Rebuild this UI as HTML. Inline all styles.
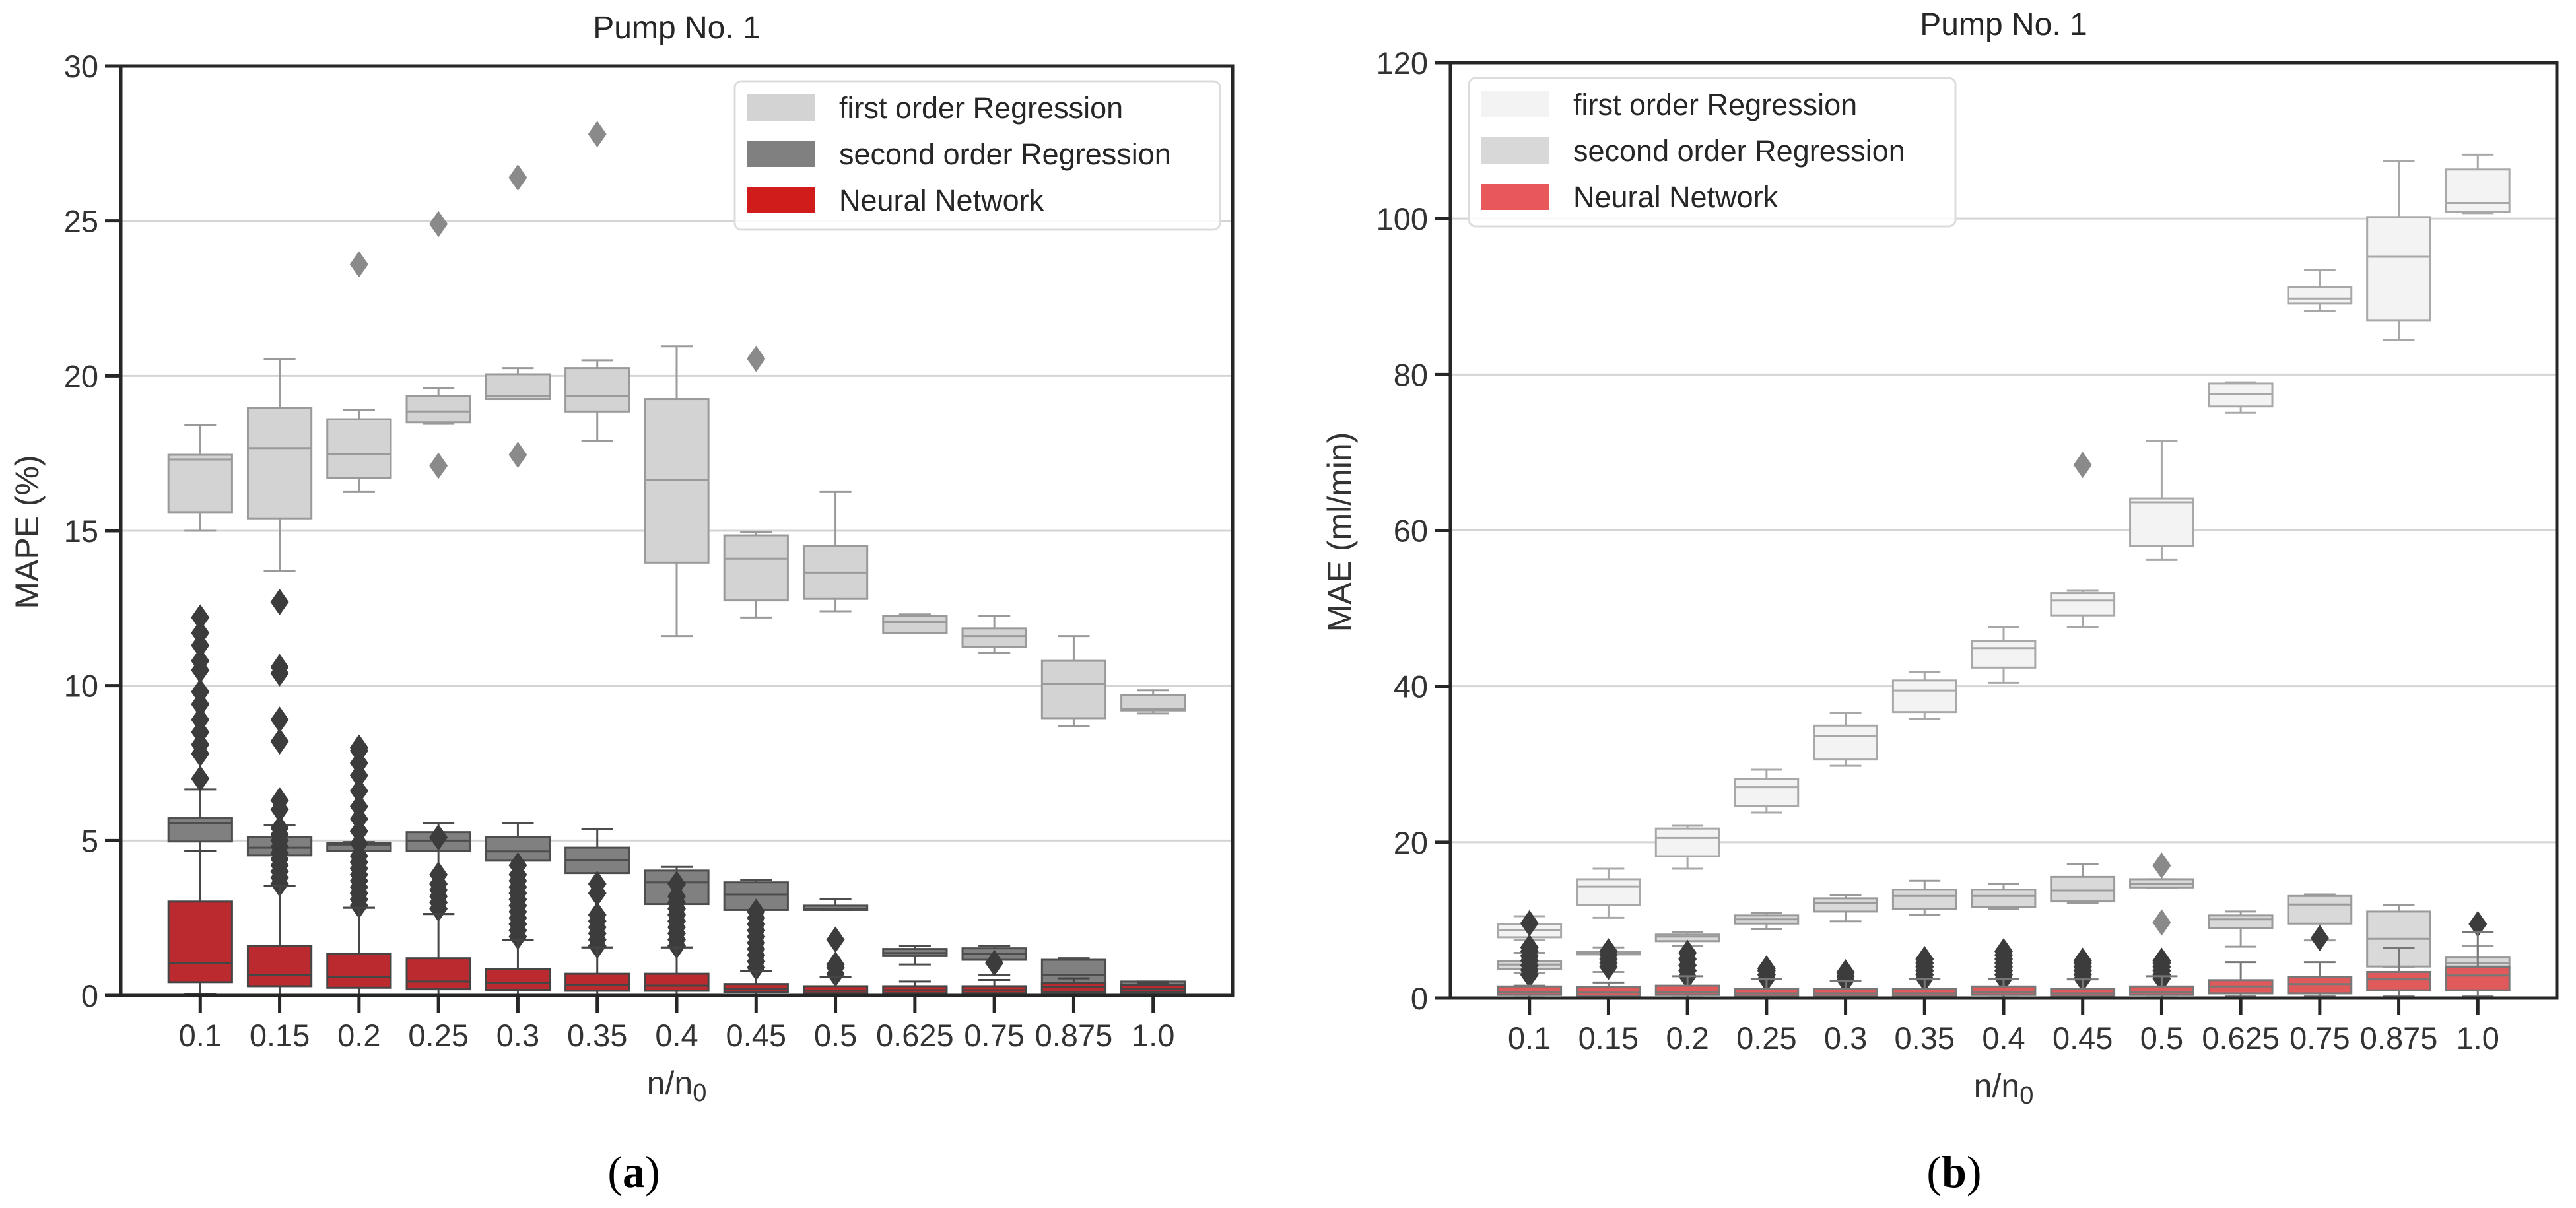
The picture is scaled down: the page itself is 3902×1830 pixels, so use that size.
<!DOCTYPE html>
<html><head><meta charset="utf-8"><style>
html,body{margin:0;padding:0;background:#fff;}
svg{display:block;font-family:"Liberation Sans",Arial,sans-serif;}
</style></head><body>
<svg id="fig" width="3902" height="1830" viewBox="0 0 3902 1830" xmlns="http://www.w3.org/2000/svg"></svg>
<script>
// ---- shared categories ----
const categories = ["0.1","0.15","0.2","0.25","0.3","0.35","0.4","0.45","0.5","0.625","0.75","0.875","1.0"];
// ---- Chart (a): MAPE, box stats [whisLo, q1, median, q3, whisHi] ----
const mapeFirst = [[15.0,15.6,17.3,17.45,18.4],[13.7,15.4,17.67,18.97,20.55],[16.25,16.7,17.47,18.6,18.9],[18.45,18.5,18.85,19.35,19.6],[19.25,19.25,19.35,20.05,20.25],[17.9,18.85,19.35,20.25,20.5],[11.6,13.97,16.65,19.25,20.95],[12.2,12.75,14.1,14.85,14.95],[12.4,12.8,13.65,14.5,16.25],[11.7,11.7,12.05,12.25,12.3],[11.05,11.25,11.6,11.85,12.25],[8.7,8.95,10.05,10.8,11.6],[9.1,9.2,9.25,9.7,9.85]];
const mapeSecond = [[4.67,4.97,5.57,5.72,6.65],[3.53,4.52,4.77,5.12,5.5],[2.83,4.67,4.87,4.92,4.95],[2.63,4.67,5.0,5.27,5.55],[1.8,4.35,4.65,5.12,5.55],[1.55,3.95,4.37,4.77,5.37],[1.55,2.95,3.65,4.03,4.15],[0.8,2.76,3.26,3.65,3.73],[2.76,2.76,2.8,2.9,3.1],[1.0,1.27,1.37,1.5,1.6],[0.67,1.15,1.35,1.52,1.6],[0.02,0.07,0.67,1.15,1.2],[0.05,0.05,0.2,0.45,0.45]];
const mapeNN = [[0.05,0.43,1.05,3.03,4.67],[0.02,0.3,0.65,1.6,3.53],[0.02,0.25,0.6,1.35,2.83],[0.02,0.2,0.45,1.2,2.63],[0.02,0.18,0.4,0.85,1.8],[0.02,0.15,0.35,0.7,1.55],[0.02,0.15,0.32,0.7,1.55],[0.02,0.1,0.2,0.37,0.8],[0.02,0.07,0.15,0.3,0.6],[0.02,0.07,0.17,0.3,0.45],[0.02,0.07,0.17,0.3,0.5],[0.02,0.12,0.27,0.4,0.55],[0.02,0.1,0.2,0.35,0.4]];
const mapeFirstOut = [[],[],[23.6],[24.9,17.1],[26.4,17.45],[27.8],[],[20.55],[],[],[],[],[]];
const mapeDarkOut = [[7.0,7.8,8.1,8.5,8.9,9.4,9.8,10.5,10.8,11.3,11.7,12.2],[3.6,3.8,4.0,4.2,4.4,4.6,4.8,5.0,5.2,5.4,6.0,6.3,8.2,8.9,10.4,10.6,12.7],[2.9,3.1,3.3,3.5,3.7,3.9,4.1,4.3,4.5,4.9,5.3,5.7,6.1,6.6,7.1,7.5,7.9,8.0],[2.8,3.0,3.2,3.4,3.6,3.9,5.1],[1.9,2.1,2.3,2.5,2.7,2.9,3.1,3.3,3.5,3.7,3.9,4.2],[1.6,1.8,2.0,2.2,2.4,2.6,3.3,3.6],[1.6,1.8,2.0,2.2,2.4,2.6,2.8,3.0,3.2,3.6],[0.9,1.1,1.3,1.5,1.7,1.9,2.1,2.3,2.5,2.7],[0.7,0.9,1.0,1.8],[],[1.05],[],[]];
const mapeTicks = [0,5,10,15,20,25,30];
// ---- Chart (b): MAE ----
const maeFirst = [[7.5,7.8,8.75,9.45,10.5],[10.3,11.9,14.3,15.25,16.6],[16.6,18.2,20.55,21.75,22.1],[23.8,24.6,27.05,28.15,29.3],[29.8,30.6,33.65,34.95,36.6],[35.8,36.7,39.45,40.75,41.8],[40.45,42.4,44.9,45.85,47.6],[47.6,49.1,51.0,51.95,52.25],[56.2,58.05,63.6,64.1,71.45],[75.1,75.9,77.45,78.85,79.0],[88.2,89.1,89.75,91.25,93.4],[84.45,86.9,95.1,100.2,107.4],[100.7,100.9,102.0,106.3,108.2]];
const maeSecond = [[3.2,3.75,4.3,4.7,5.8],[3.35,5.6,5.8,5.9,6.5],[6.7,7.3,7.9,8.15,8.45],[8.85,9.55,10.1,10.6,10.9],[9.85,11.1,12.2,12.8,13.2],[10.7,11.4,13.1,13.9,15.05],[11.4,11.7,13.1,13.9,14.65],[12.2,12.4,13.8,15.55,17.2],[14.2,14.2,14.65,15.25,15.25],[6.6,8.95,10.1,10.6,11.1],[7.4,9.55,12.0,13.1,13.3],[3.95,4.05,7.6,11.1,11.9],[3.85,4.05,4.5,5.2,6.7]];
const maeNN = [[0.1,0.4,0.8,1.5,1.6],[0.1,0.3,0.7,1.4,2.0],[0.1,0.4,0.8,1.6,2.8],[0.1,0.3,0.6,1.2,2.5],[0.1,0.3,0.6,1.2,2.2],[0.1,0.3,0.6,1.2,2.5],[0.1,0.4,0.8,1.5,2.5],[0.1,0.3,0.6,1.2,2.4],[0.1,0.4,0.8,1.5,2.8],[0.2,0.6,1.5,2.3,4.6],[0.2,0.6,1.8,2.75,4.6],[0.2,1.0,2.4,3.35,6.4],[0.2,1.0,2.9,4.0,8.5]];
const maeFirstOut = [[],[],[],[],[],[],[],[68.4],[17.0,9.7],[],[],[],[]];
const maeDarkOut = [[3.0,3.6,4.2,4.8,5.4,6.0,6.5,9.6],[4.0,4.5,5.0,5.5,6.0],[2.8,3.5,4.2,5.0,5.8],[2.5,3.0,3.5,3.8],[2.3,2.8,3.3],[2.5,3.0,3.5,4.0,4.5,5.0],[2.5,3.0,3.5,4.0,4.5,5.0,5.5,6.0],[2.5,3.0,3.5,4.0,4.5,4.8],[2.5,3.0,3.5,4.0,4.5,4.8],[],[7.7],[],[9.5]];
const maeTicks = [0,20,40,60,80,100,120];

const NS = "http://www.w3.org/2000/svg";
const svg = document.getElementById('fig');
function mk(tag, attrs, parent, text){
  const e = document.createElementNS(NS, tag);
  for (const k in attrs) e.setAttribute(k, attrs[k]);
  if (text !== undefined) e.textContent = text;
  (parent||svg).appendChild(e);
  return e;
}

function drawChart(cfg){
  const g = mk('g', {});
  
  
  const L=cfg.left, R=cfg.right, T=cfg.top, B=cfg.bottom;
  const n = categories.length;
  const step = (R-L)/(n+1);
  const xScale = i => L + (i+1)*step;
  const yScale = v => B - (v - cfg.ymin)/(cfg.ymax-cfg.ymin)*(B-T);
  const bw = step*0.8;
  cfg.ticks.forEach(t=>{
    if (t===cfg.ymin || t===cfg.ymax) return;
    const gl = mk('line',{x1:L,x2:R,y1:yScale(t),y2:yScale(t),stroke:'#d4d4d4','stroke-width':3},g);
    
    
  });
  function series(stats, outs, fill, edge, outColor, sname){
    const sg = mk('g',{},g);
    
    
    stats.forEach((s,i)=>{
      const cx = xScale(i);
      const [lo,q1,md,q3,hi] = s;
      const bg = mk('g',{},sg);
      
      
      mk('line',{x1:cx,x2:cx,y1:yScale(q3),y2:yScale(hi),stroke:edge,'stroke-width':3},bg);
      mk('line',{x1:cx,x2:cx,y1:yScale(q1),y2:yScale(lo),stroke:edge,'stroke-width':3},bg);
      mk('line',{x1:cx-bw/4,x2:cx+bw/4,y1:yScale(hi),y2:yScale(hi),stroke:edge,'stroke-width':3},bg);
      mk('line',{x1:cx-bw/4,x2:cx+bw/4,y1:yScale(lo),y2:yScale(lo),stroke:edge,'stroke-width':3},bg);
      mk('rect',{x:cx-bw/2,y:yScale(q3),width:bw,height:Math.max(1,yScale(q1)-yScale(q3)),fill:fill,stroke:edge,'stroke-width':3},bg);
      mk('line',{x1:cx-bw/2,x2:cx+bw/2,y1:yScale(md),y2:yScale(md),stroke:edge,'stroke-width':3},bg);
      (outs[i]||[]).forEach(v=>{
        const y=yScale(v);
        const d = mk('path',{d:`M${cx} ${y-20} L${cx+14} ${y} L${cx} ${y+20} L${cx-14} ${y} Z`,fill:outColor},bg);
        
        
      });
    });
  }
  series(cfg.first, cfg.firstOut, cfg.c1, cfg.e1, cfg.o1, 'first-order-regression');
  series(cfg.second, cfg.darkOut, cfg.c2, cfg.e2, '#3c3c3c', 'second-order-regression');
  series(cfg.nn, [], cfg.c3, cfg.e3, '#3c3c3c', 'neural-network');
  const fr = mk('rect',{x:L,y:T,width:R-L,height:B-T,fill:'none',stroke:'#262626','stroke-width':5},g);
  
  
  cfg.ticks.forEach(t=>{
    const y=yScale(t);
    mk('line',{x1:L-24,x2:L,y1:y,y2:y,stroke:'#262626','stroke-width':5},g);
    const tl = mk('text',{x:L-34,y:y+17,'text-anchor':'end','font-size':47,fill:'#333'},g,String(t));
    
    
  });
  categories.forEach((c,i)=>{
    const x=xScale(i);
    mk('line',{x1:x,x2:x,y1:B,y2:B+26,stroke:'#262626','stroke-width':5},g);
    const tl = mk('text',{x:x,y:B+77,'text-anchor':'middle','font-size':47,fill:'#333'},g,c);
    
    
  });
  const cx=(L+R)/2;
  const title = mk('text',{x:cx,y:T-42,'text-anchor':'middle','font-size':48,fill:'#262626'},g,'Pump No. 1');
  
  
  const xl = mk('text',{x:cx,y:B+150,'text-anchor':'middle','font-size':50,fill:'#333'},g);
  
  
  mk('tspan',{},xl,'n/n');
  mk('tspan',{'font-size':38,dy:10},xl,'0');
  const yl = mk('text',{x:cfg.ylabelX,y:806,'text-anchor':'middle','font-size':50,fill:'#333',transform:`rotate(-90 ${cfg.ylabelX} 806)`},g,cfg.ylabel);
  
  
  const lg = mk('g',{},g);
  
  
  mk('rect',{x:cfg.lx,y:cfg.ly,width:cfg.lw,height:225,rx:10,fill:'#fff','fill-opacity':0.85,stroke:'#dcdcdc','stroke-width':3},lg);
  const labels=['first order Regression','second order Regression','Neural Network'];
  const cols=[cfg.lc1,cfg.lc2,cfg.lc3];
  labels.forEach((lab,k)=>{
    const yy = cfg.ly+40+k*70;
    const e = mk('g',{},lg);
    
    
    mk('rect',{x:cfg.lx+19,y:yy-20,width:103,height:40,fill:cols[k]},e);
    mk('text',{x:cfg.lx+158,y:yy+16,'font-size':45,fill:'#262626'},e,lab);
  });
}

drawChart({name:'mape-chart',left:183,right:1867,top:100,bottom:1508,ymin:0,ymax:30,ticks:mapeTicks,
  first:mapeFirst,second:mapeSecond,nn:mapeNN,firstOut:mapeFirstOut,darkOut:mapeDarkOut,
  c1:'#d3d3d3',e1:'#9a9a9a',o1:'#8a8a8a',c2:'#808080',e2:'#4d4d4d',c3:'#bb2a2f',e3:'#454545',
  ylabel:'MAPE (%)',ylabelX:58,lx:1113,ly:123,lw:735,lc1:'#d3d3d3',lc2:'#808080',lc3:'#d11c1c'});
drawChart({name:'mae-chart',left:2197,right:3873,top:95,bottom:1512,ymin:0,ymax:120,ticks:maeTicks,
  first:maeFirst,second:maeSecond,nn:maeNN,firstOut:maeFirstOut,darkOut:maeDarkOut,
  c1:'#f3f3f3',e1:'#a8a8a8',o1:'#8a8a8a',c2:'#d9d9d9',e2:'#9a9a9a',c3:'#e05a5c',e3:'#777',
  ylabel:'MAE (ml/min)',ylabelX:2046,lx:2225,ly:118,lw:737,lc1:'#f3f3f3',lc2:'#d8d8d8',lc3:'#e8585a'});

[['(','a',')',960,'panel-label-a'],['(','b',')',2960,'panel-label-b']].forEach(p=>{
  const t = mk('text',{x:p[3],y:1798,'text-anchor':'middle','font-size':68,'font-family':'"Liberation Serif",serif',fill:'#000'});
  
  
  mk('tspan',{},t,p[0]);
  mk('tspan',{'font-weight':'bold'},t,p[1]);
  mk('tspan',{},t,p[2]);
});
</script>
</body></html>
